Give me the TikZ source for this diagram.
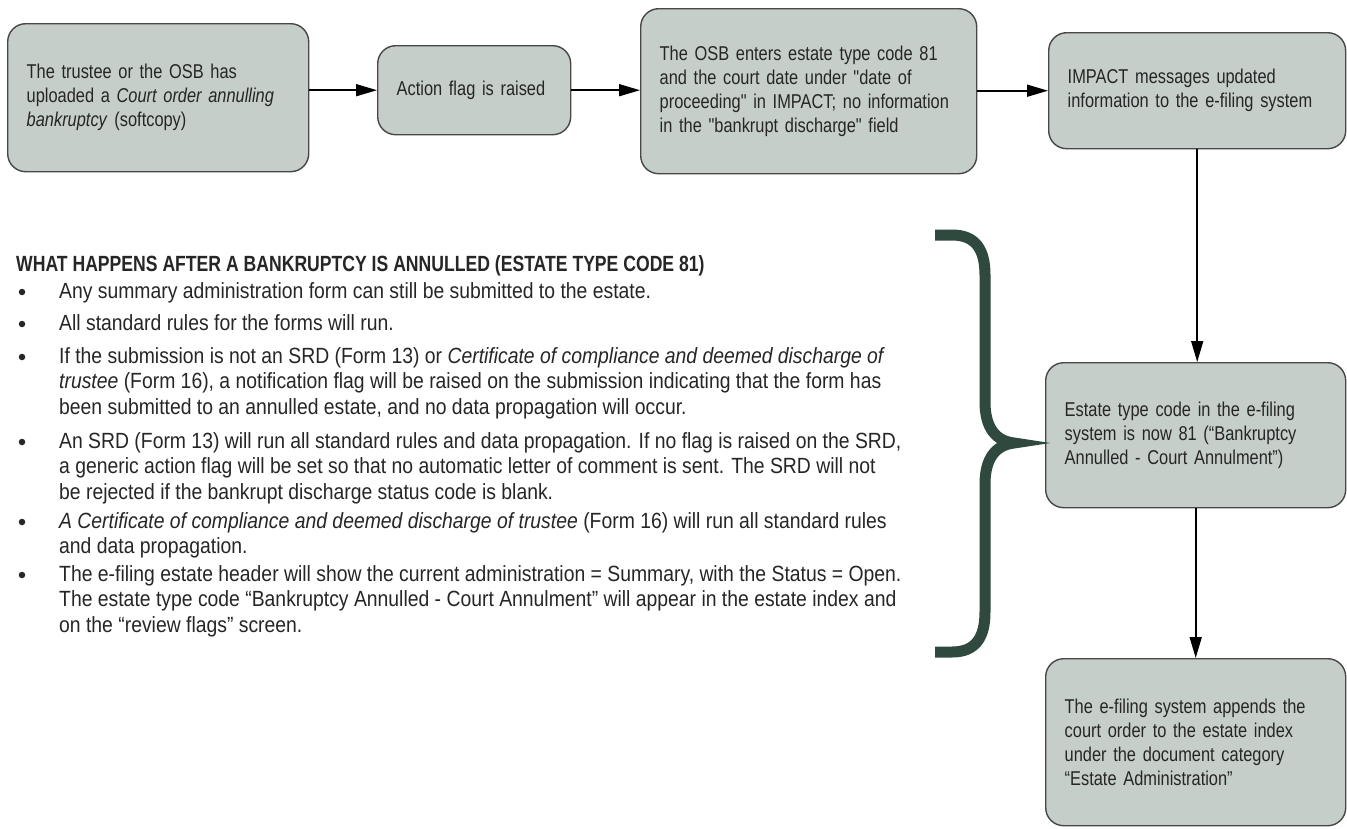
\documentclass[tikz,border=0pt]{standalone}
\usepackage{fontspec}
\setmainfont{Liberation Sans}
\newfontfamily\boxfont{Liberation Sans}[FakeStretch=0.82]
\newfontfamily\listfont{Liberation Sans}[FakeStretch=0.88]
\newfontfamily\headfont{Liberation Sans}[FakeStretch=0.80]
\usetikzlibrary{arrows.meta}
\definecolor{boxfill}{HTML}{C6CEC9}
\definecolor{boxline}{HTML}{474747}
\definecolor{txt}{HTML}{262626}
\definecolor{bracecol}{HTML}{30493F}
\begin{document}
\begin{tikzpicture}[x=1pt,y=-1pt,
  flowbox/.style={draw=boxline, fill=boxfill, line width=1.4pt, rounded corners=18pt,
    anchor=north west, align=left, inner xsep=19pt, inner ysep=0pt, text=txt,
    font=\boxfont\fontsize{20}{24}\selectfont},
  flowarrow/.style={draw=black, line width=1.6pt, -{Triangle[length=21pt,width=12pt]}},
  listtext/.style={anchor=north west, inner sep=0pt, align=left, text=txt,
    font=\listfont\fontsize{22}{25.5}\selectfont},
  listdot/.style={circle, fill=txt, inner sep=0pt, minimum size=6.5pt},
  bracestyle/.style={draw=bracecol, line width=11pt, line join=miter}
]
\useasboundingbox[fill=white] (0,0) rectangle (1347,828);

% flow boxes
\node[flowbox, minimum width=301pt, minimum height=148pt, text width=263pt] (b1) at (7,23)
  {The trustee or the OSB has\\uploaded a \textit{Court order annulling}\\\textit{bankruptcy} (softcopy)};
\node[flowbox, minimum width=193pt, minimum height=89pt, text width=155pt] (b2) at (377,45)
  {Action flag is raised};
\node[flowbox, minimum width=336pt, minimum height=165pt, text width=298pt] (b3) at (640,8)
  {The OSB enters estate type code 81\\and the court date under "date of\\proceeding" in IMPACT; no information\\in the "bankrupt discharge" field};
\node[flowbox, minimum width=297pt, minimum height=116pt, text width=259pt] (b4) at (1048,32)
  {IMPACT messages updated\\information to the e-filing system};
\node[flowbox, minimum width=300pt, minimum height=145pt, text width=262pt] (b5) at (1045,362)
  {Estate type code in the e-filing\\system is now 81 (“Bankruptcy\\Annulled - Court Annulment”)};
\node[flowbox, minimum width=300pt, minimum height=167pt, text width=262pt] (b6) at (1045,658)
  {The e-filing system appends the\\court order to the estate index\\under the document category\\“Estate Administration”};

% connectors
\draw[flowarrow] (b1.east |- b2.west) -- (b2.west);
\draw[flowarrow] (b2.east) -- (b2.east -| b3.west);
\draw[flowarrow] (b3.east |- b4.west) -- (b4.west);
\draw[flowarrow] (b4.south) -- (b4.south |- b5.north);
\draw[flowarrow] (b5.south) -- (b5.south |- b6.north);

% brace
\draw[bracestyle] (935,235) -- (952,235)
  .. controls (976,235) and (985,250) .. (985,275) -- (985,402)
  .. controls (985,428) and (996,441) .. (1014,443)
  .. controls (996,445) and (985,458) .. (985,484) -- (985,612)
  .. controls (985,637) and (976,652) .. (952,652) -- (935,652);

% heading and list
\node[anchor=north west, inner sep=0pt, text=txt, font=\headfont\bfseries\fontsize{22}{25}\selectfont] (head) at (16,255)
  {WHAT HAPPENS AFTER A BANKRUPTCY IS ANNULLED (ESTATE TYPE CODE 81)};

\node[listdot] (d1) at (22,292) {};
\node[listtext] (t1) at (59,282) {Any summary administration form can still be submitted to the estate.};
\node[listdot] (d2) at (22,324) {};
\node[listtext] (t2) at (59,314) {All standard rules for the forms will run.};
\node[listdot] (d3) at (22,357) {};
\node[listtext] (t3) at (59,347) {If the submission is not an SRD (Form 13) or \textit{Certificate of compliance and deemed discharge of}\\\textit{trustee} (Form 16), a notification flag will be raised on the submission indicating that the form has\\been submitted to an annulled estate, and no data propagation will occur.};
\node[listdot] (d4) at (22,442) {};
\node[listtext] (t4) at (59,432) {An SRD (Form 13) will run all standard rules and data propagation. If no flag is raised on the SRD,\\a generic action flag will be set so that no automatic letter of comment is sent. The SRD will not\\be rejected if the bankrupt discharge status code is blank.};
\node[listdot] (d5) at (22,522) {};
\node[listtext] (t5) at (59,512) {\textit{A Certificate of compliance and deemed discharge of trustee} (Form 16) will run all standard rules\\and data propagation.};
\node[listdot] (d6) at (22,575) {};
\node[listtext] (t6) at (59,565) {The e-filing estate header will show the current administration = Summary, with the Status = Open.\\The estate type code “Bankruptcy Annulled - Court Annulment” will appear in the estate index and\\on the “review flags” screen.};
\end{tikzpicture}
\end{document}
